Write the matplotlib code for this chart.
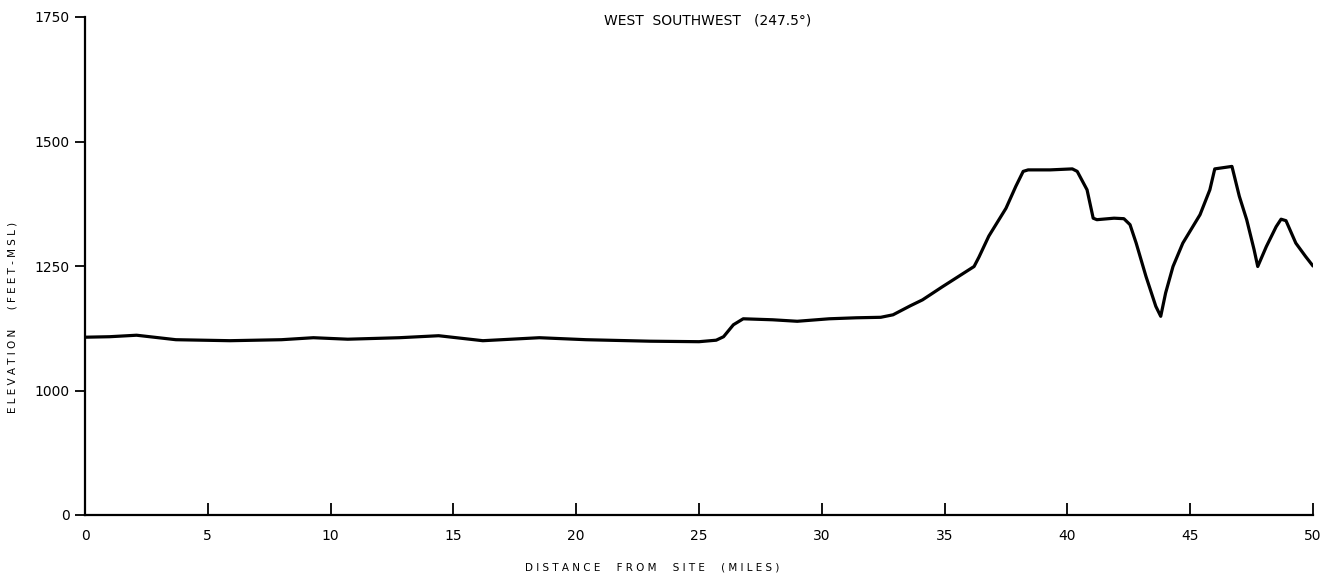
import matplotlib
matplotlib.use("Agg")
import matplotlib.pyplot as plt

# ---- data ----
distance_mi = [0, 1, 2.1, 3.7, 5.9, 8, 9.3, 10.7, 12.8, 14.4, 16.2, 18.5, 20.4, 23, 25,
               25.7, 26.0, 26.4, 26.8, 28.0, 29.0, 30.3, 31.4, 32.4, 32.9, 33.6, 34.1,
               34.9, 36.2, 36.4, 36.8, 37.5, 37.9, 38.2, 38.4, 39.3, 40.2, 40.4, 40.8,
               41.05, 41.2, 41.9, 42.3, 42.55, 42.8, 43.2, 43.6, 43.8, 44.0, 44.3, 44.7,
               45.4, 45.8, 46.0, 46.7, 47.0, 47.3, 47.6, 47.75, 48.1, 48.5, 48.7, 48.9,
               49.3, 49.7, 50.0]
elevation_ft = [1107, 1108, 1111, 1102, 1100, 1102, 1106, 1103, 1106, 1110, 1100, 1106, 1102, 1099, 1098,
                1101, 1108, 1132, 1144, 1142, 1139, 1144, 1146, 1147, 1152, 1170, 1182,
                1208, 1249, 1268, 1310, 1366, 1410, 1440, 1443, 1443, 1445, 1440, 1403,
                1346, 1343, 1346, 1345, 1333, 1296, 1229, 1169, 1149, 1196, 1249, 1296,
                1353, 1403, 1445, 1450, 1390, 1343, 1283, 1249, 1289, 1329, 1344, 1341,
                1296, 1269, 1250]

x_ticks = [0, 5, 10, 15, 20, 25, 30, 35, 40, 45, 50]
y_tick_labels = ["0", "1000", "1250", "1500", "1750"]
# broken axis: "0" is drawn one interval below 1000
y_tick_pos = [750, 1000, 1250, 1500, 1750]

title = "WEST  SOUTHWEST   (247.5°)"
xlabel = "D I S T A N C E     F R O M     S I T E     ( M I L E S )"
ylabel = "E L E V A T I O N      ( F E E T - M S L )"

plt.rcParams['font.family'] = ['DejaVu Sans']

fig = plt.figure(figsize=(13.4, 5.86), dpi=100)
ax = fig.add_axes([85/1340, 1-515/586, (1313-85)/1340, (515-17)/586])

ax.plot(distance_mi, elevation_ft, color='black', lw=2.3,
        solid_joinstyle='round', solid_capstyle='round')

ax.set_xlim(0, 50)
ax.set_ylim(750, 1750)
ax.set_xticks(x_ticks)
ax.set_xticklabels([str(t) for t in x_ticks], fontsize=10)
ax.set_yticks(y_tick_pos)
ax.set_yticklabels(y_tick_labels, fontsize=10)

for s in ['top', 'right']:
    ax.spines[s].set_visible(False)
for s in ['left', 'bottom']:
    ax.spines[s].set_linewidth(1.6)

ax.tick_params(axis='x', direction='in', length=9, width=1.3, pad=10)
ax.tick_params(axis='y', direction='out', length=7, width=1.3, pad=4)

fig.text(708/1340, 1-20/586, title, ha='center', va='center', fontsize=10)
fig.text(652/1340, 1-568/586, xlabel, ha='center', va='center', fontsize=7.5)
fig.text(13/1340, 1-317/586, ylabel, ha='center', va='center', rotation=90, fontsize=7.5)

fig.savefig("out.png", dpi=100, facecolor='white')
